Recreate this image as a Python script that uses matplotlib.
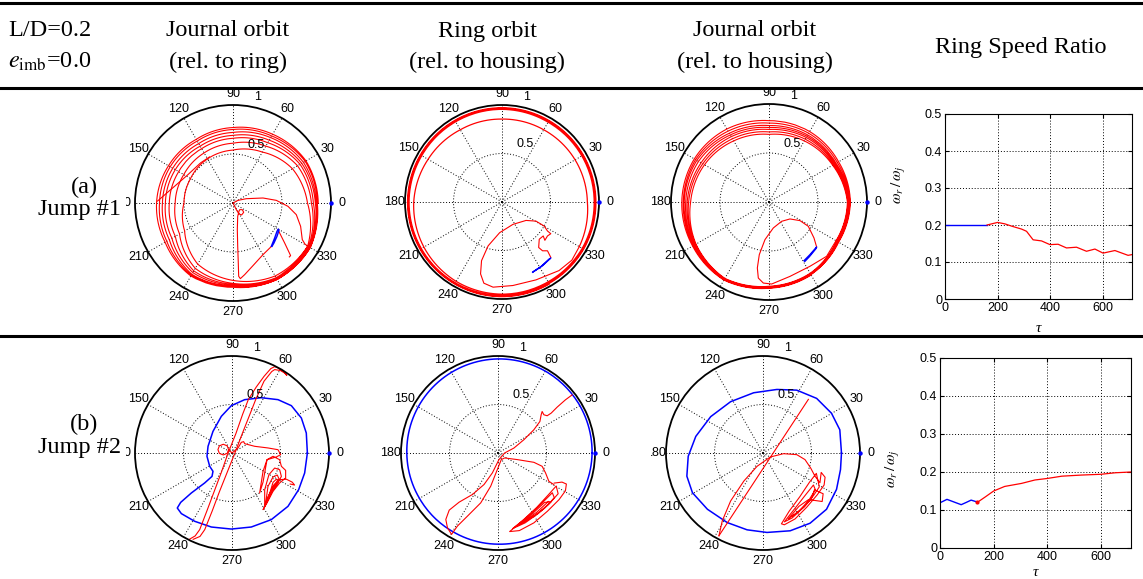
import numpy as np
import matplotlib
matplotlib.use("Agg")
import matplotlib.pyplot as plt
from matplotlib.lines import Line2D
from matplotlib.patches import Rectangle

plt.rcParams['mathtext.fontset'] = 'stix'
plt.rcParams['font.family'] = ['Liberation Sans', 'DejaVu Sans']
SERIF = 'Liberation Serif'

# ------------------------------------------------------------------ texts
COL_X = [228, 487, 755]
COL_LINE1 = ['Journal orbit', 'Ring orbit', 'Journal orbit']
COL_LINE2 = ['(rel. to ring)', '(rel. to housing)', '(rel. to housing)']
ROW_TAGS = ['(a)', '(b)']
ROW_NAMES = ['Jump #1', 'Jump #2']
ANGLE_TICKS = [0, 30, 60, 90, 120, 150, 180, 210, 240, 270, 300, 330]
SPEED_XTICKS = [0, 200, 400, 600]
SPEED_YTICKS = [0, 0.1, 0.2, 0.3, 0.4, 0.5]
SPEED_YTICKLABELS = ['0', '0.1', '0.2', '0.3', '0.4', '0.5']

# ------------------------------------------------------------------ ring speed ratio data
TAU_A_BLUE = [0, 80, 160]
RATIO_A_BLUE = [0.2, 0.2, 0.2]
TAU_A_RED = [160, 200, 228, 253, 291, 310, 335, 367, 399, 430, 462, 500, 538, 570, 601, 646, 696, 711]
RATIO_A_RED = [0.2, 0.207, 0.203, 0.197, 0.189, 0.183, 0.16, 0.157, 0.147, 0.148, 0.138, 0.14,
               0.129, 0.135, 0.124, 0.131, 0.118, 0.12]
TAU_B_BLUE = [0, 26, 60, 79, 98, 116, 139]
RATIO_B_BLUE = [0.119, 0.128, 0.119, 0.114, 0.12, 0.126, 0.121]
TAU_B_RED = [139, 170, 200, 241, 304, 354, 400, 454, 529, 600, 654, 712]
RATIO_B_RED = [0.12, 0.135, 0.15, 0.162, 0.17, 0.179, 0.183, 0.189, 0.192, 0.194, 0.198, 0.2]

# ------------------------------------------------------------------ orbit data (eccentricity, normalised)
# row (a), journal relative to ring
A1_BLUE_X = [0.391, 0.425, 0.449, 0.463, 0.469, 0.449, 0.418, 0.398]
A1_BLUE_Y = [-0.442, -0.357, -0.289, -0.265, -0.279, -0.340, -0.408, -0.442]
A1_SEG_X = [0.459, 0.527, 0.588, 0.575]
A1_SEG_Y = [-0.272, -0.408, -0.537, -0.55]
A1_PATH_X = [0.40, 0.306, 0.204, 0.119, 0.075, 0.058, 0.054, 0.048, 0.044, 0.048, 0.061, 0.068,
             0.095, 0.109, 0.088, 0.061, 0.034, 0.01, 0.0, 0.051, 0.136, 0.306, 0.442, 0.561,
             0.646, 0.690, 0.707, 0.735, 0.762]
A1_PATH_Y = [-0.435, -0.527, -0.639, -0.731, -0.772, -0.748, -0.612, -0.442, -0.272, -0.136,
             -0.085, -0.068, -0.068, -0.095, -0.122, -0.112, -0.068, -0.02, 0.0, 0.027, 0.044,
             0.051, 0.027, -0.034, -0.119, -0.238, -0.374, -0.42, -0.44]
A1_CROSS_X = [-0.77, -0.62, -0.47, -0.33, -0.24]
A1_CROSS_Y = [0.02, 0.15, 0.28, 0.41, 0.47]
A1_LOOP_ANGLES = [330, 300, 270, 240, 210, 180, 150, 120, 90, 60, 30, 0]   # clockwise
A1_LOOPS_R = [
    [0.88, 0.86, 0.79, 0.72, 0.57, 0.50, 0.50, 0.52, 0.54, 0.60, 0.70, 0.76],
    [0.88, 0.88, 0.82, 0.77, 0.63, 0.59, 0.58, 0.59, 0.61, 0.67, 0.76, 0.80],
    [0.89, 0.89, 0.83, 0.80, 0.68, 0.65, 0.64, 0.64, 0.66, 0.71, 0.79, 0.82],
    [0.90, 0.89, 0.84, 0.82, 0.72, 0.69, 0.68, 0.67, 0.69, 0.74, 0.81, 0.84],
    [0.90, 0.90, 0.85, 0.84, 0.75, 0.72, 0.71, 0.70, 0.72, 0.77, 0.83, 0.85],
    [0.91, 0.90, 0.85, 0.85, 0.78, 0.75, 0.74, 0.73, 0.75, 0.79, 0.85, 0.86],
    [0.91, 0.90, 0.86, 0.86, 0.80, 0.78, 0.76, 0.75, 0.77, 0.81, 0.86, 0.87],
]

# row (a), ring relative to housing
A2_BLUE_X = [0.316, 0.418, 0.503, 0.486, 0.401, 0.323]
A2_BLUE_Y = [-0.724, -0.656, -0.578, -0.588, -0.667, -0.718]
A2_PATH_X = [0.503, 0.469, 0.418, 0.378, 0.384, 0.425, 0.442, 0.469, 0.503, 0.469, 0.435, 0.350,
             0.248, 0.112, -0.024, -0.143, -0.211, -0.221, -0.187, -0.092, 0.112, 0.350, 0.588,
             0.72, 0.797]
A2_PATH_Y = [-0.571, -0.503, -0.503, -0.469, -0.384, -0.350, -0.395, -0.350, -0.327, -0.299,
             -0.248, -0.197, -0.190, -0.231, -0.316, -0.452, -0.605, -0.741, -0.837, -0.878,
             -0.861, -0.803, -0.707, -0.60, -0.46]
A2_LOOP_ANGLES = [-30, 0, 30, 60, 90, 120, 150, 180, 210, 240, 270, 300]   # counter-clockwise
A2_LOOPS_R = [
    [0.92, 0.88, 0.87, 0.86, 0.855, 0.86, 0.88, 0.91, 0.93, 0.945, 0.95, 0.95],
    [0.955, 0.95, 0.95, 0.95, 0.955, 0.955, 0.955, 0.958, 0.96, 0.962, 0.962, 0.962],
    [0.965, 0.96, 0.96, 0.962, 0.965, 0.965, 0.965, 0.967, 0.968, 0.97, 0.97, 0.97],
    [0.972, 0.968, 0.968, 0.97, 0.972, 0.972, 0.972, 0.974, 0.975, 0.976, 0.976, 0.976],
]

# row (a), journal relative to housing
A3_BLUE_X = [0.357, 0.418, 0.486, 0.476, 0.412, 0.367]
A3_BLUE_Y = [-0.599, -0.537, -0.459, -0.480, -0.558, -0.605]
A3_PATH_X = [0.486, 0.459, 0.401, 0.316, 0.214, 0.129, 0.044, -0.041, -0.099, -0.119, -0.109,
             -0.058, 0.027, 0.214, 0.418, 0.588, 0.684]
A3_PATH_Y = [-0.459, -0.367, -0.248, -0.190, -0.173, -0.197, -0.265, -0.384, -0.537, -0.673,
             -0.776, -0.827, -0.837, -0.759, -0.656, -0.554, -0.395]
A3_LOOP_ANGLES = [-30, 0, 30, 60, 90, 120, 150, 180, 210, 240, 270, 300]   # counter-clockwise
A3_LOOPS_R = [
    [0.79, 0.80, 0.75, 0.72, 0.69, 0.72, 0.76, 0.80, 0.86, 0.90, 0.86, 0.84],
    [0.795, 0.805, 0.76, 0.74, 0.715, 0.745, 0.78, 0.82, 0.865, 0.905, 0.865, 0.845],
    [0.80, 0.81, 0.77, 0.76, 0.74, 0.77, 0.80, 0.835, 0.87, 0.91, 0.87, 0.85],
    [0.805, 0.815, 0.78, 0.775, 0.76, 0.79, 0.83, 0.85, 0.88, 0.91, 0.87, 0.85],
    [0.81, 0.82, 0.79, 0.79, 0.78, 0.81, 0.85, 0.865, 0.885, 0.915, 0.875, 0.855],
    [0.815, 0.825, 0.805, 0.81, 0.805, 0.835, 0.865, 0.875, 0.89, 0.915, 0.875, 0.855],
    [0.82, 0.83, 0.82, 0.83, 0.83, 0.86, 0.88, 0.89, 0.90, 0.92, 0.88, 0.86],
]

# row (b), journal relative to ring
B1_BLUE_X = [0.777, 0.766, 0.715, 0.612, 0.474, 0.302, 0.131, -0.007, -0.110, -0.196, -0.247,
             -0.258, -0.230, -0.196, -0.206, -0.282, -0.419, -0.529, -0.564, -0.522, -0.385,
             -0.213, -0.007, 0.199, 0.405, 0.577, 0.687, 0.749, 0.777]
B1_BLUE_Y = [0.0, 0.206, 0.361, 0.488, 0.550, 0.570, 0.550, 0.488, 0.378, 0.223, 0.069, -0.034,
             -0.137, -0.189, -0.241, -0.309, -0.412, -0.509, -0.567, -0.625, -0.704, -0.763,
             -0.784, -0.763, -0.687, -0.550, -0.378, -0.206, 0.0]
B1_RIBBON_X = [-0.44, -0.38, -0.333, -0.26, -0.185, -0.11, -0.04, 0.04, 0.11, 0.168, 0.25, 0.33,
               0.40, 0.44, 0.47, 0.505, 0.53, 0.565, 0.55, 0.50, 0.44, 0.41, 0.33, 0.244, 0.185,
               0.106, 0.03, -0.05, -0.13, -0.205, -0.281, -0.33, -0.40]
B1_RIBBON_Y = [-0.89, -0.855, -0.79, -0.60, -0.40, -0.20, 0.0, 0.20, 0.40, 0.55, 0.68, 0.79,
               0.87, 0.89, 0.88, 0.855, 0.84, 0.80, 0.82, 0.85, 0.86, 0.84, 0.74, 0.55, 0.40,
               0.20, 0.0, -0.20, -0.40, -0.60, -0.79, -0.86, -0.89]
B1_PATH_X = [-0.035, -0.05, -0.09, -0.13, -0.145, -0.13, -0.09, -0.05, -0.035, 0.0, 0.062, 0.096,
             0.120, 0.131, 0.234, 0.371, 0.474, 0.502, 0.457,
             0.361, 0.320, 0.285, 0.320, 0.361, 0.423, 0.491, 0.509, 0.553, 0.553, 0.491, 0.423,
             0.361, 0.320,
             0.337, 0.337, 0.381, 0.440, 0.491, 0.509, 0.474, 0.405, 0.337,
             0.347, 0.371, 0.423, 0.467, 0.485, 0.440, 0.381, 0.347,
             0.388, 0.423, 0.460, 0.474, 0.433, 0.388, 0.43, 0.491, 0.56, 0.62, 0.645, 0.60]
B1_PATH_Y = [0.035, 0.074, 0.09, 0.074, 0.035, -0.004, -0.02, -0.004, 0.035, 0.0, 0.052, 0.110,
             0.117, 0.096, 0.069, 0.052, 0.034, -0.017, -0.041,
             -0.069, -0.300, -0.412, -0.189, -0.069, -0.034, -0.069, -0.137, -0.179, -0.258,
             -0.309, -0.395, -0.515, -0.584,
             -0.550, -0.378, -0.223, -0.155, -0.172, -0.241, -0.309, -0.412, -0.550,
             -0.515, -0.344, -0.247, -0.227, -0.268, -0.326, -0.430, -0.515,
             -0.419, -0.302, -0.268, -0.296, -0.351, -0.419, -0.33, -0.275, -0.27, -0.30, -0.33,
             -0.32]

# row (b), ring relative to housing
B2_BLUE_ANGLES = [0, 30, 60, 90, 120, 150, 180, 210, 240, 270, 300, 330, 360]
B2_BLUE_R = [0.97, 0.975, 0.975, 0.97, 0.96, 0.95, 0.94, 0.935, 0.935, 0.94, 0.95, 0.96, 0.97]
B2_PATH_X = [0.764, 0.695, 0.610, 0.548, 0.507, 0.473, 0.455, 0.445, 0.432, 0.370, 0.267, 0.164,
             0.068, 0.010, -0.058, -0.144, -0.264, -0.401, -0.503, -0.538, -0.521, -0.479,
             -0.418, -0.315, -0.178, -0.075, -0.007, 0.034, 0.068, 0.199, 0.370, 0.455, 0.490,
             0.524, 0.575]
B2_PATH_Y = [0.599, 0.548, 0.473, 0.411, 0.384, 0.394, 0.428, 0.394, 0.325, 0.240, 0.137, 0.051,
             0.0, -0.068, -0.205, -0.325, -0.428, -0.507, -0.589, -0.685, -0.771, -0.839,
             -0.753, -0.651, -0.514, -0.342, -0.171, -0.068, -0.051, -0.068, -0.096, -0.137,
             -0.205, -0.291, -0.325]
B2_CLUSTER_X = [0.58, 0.66, 0.705, 0.695, 0.63, 0.51, 0.37, 0.22, 0.12, 0.25, 0.40, 0.52, 0.60,
                0.61, 0.62, 0.55, 0.42, 0.28, 0.15, 0.30, 0.45, 0.56,
                0.58, 0.52, 0.40, 0.27, 0.20, 0.35, 0.48, 0.55, 0.48, 0.36, 0.25, 0.40, 0.52]
B2_CLUSTER_Y = [-0.31, -0.30, -0.32, -0.39, -0.48, -0.60, -0.72, -0.80, -0.81, -0.70, -0.56,
                -0.43, -0.34, -0.38, -0.42, -0.50, -0.62, -0.72, -0.78, -0.66, -0.52, -0.41,
                -0.46, -0.53, -0.63, -0.71, -0.75, -0.63, -0.51, -0.50, -0.57, -0.66, -0.72,
                -0.61, -0.50]

# row (b), journal relative to housing
B3_BLUE_X = [0.809, 0.792, 0.706, 0.553, 0.348, 0.143, -0.096, -0.334, -0.539, -0.693, -0.771,
             -0.785, -0.727, -0.573, -0.369, -0.164, 0.041, 0.280, 0.485, 0.655, 0.758, 0.799,
             0.809]
B3_BLUE_Y = [0.0, 0.239, 0.410, 0.563, 0.648, 0.655, 0.621, 0.529, 0.375, 0.171, -0.034, -0.239,
             -0.410, -0.580, -0.717, -0.792, -0.819, -0.802, -0.724, -0.580, -0.375, -0.171, 0.0]
B3_LINE_X = [0.468, -0.454]
B3_LINE_Y = [0.553, -0.853]
B3_PATH_X = [-0.454, -0.420, -0.334, -0.198, -0.061, 0.075, 0.212, 0.348, 0.433, 0.491, 0.536,
             0.587, 0.60, 0.64, 0.63, 0.56, 0.45, 0.33, 0.22, 0.19, 0.27, 0.38, 0.48, 0.55,
             0.57, 0.58, 0.52, 0.42, 0.30, 0.22, 0.33, 0.44, 0.52, 0.54, 0.47, 0.37, 0.26,
             0.37, 0.47, 0.61, 0.62, 0.53, 0.50, 0.43, 0.33, 0.30]
B3_PATH_Y = [-0.853, -0.700, -0.495, -0.290, -0.137, -0.041, -0.007, -0.017, -0.068, -0.154,
             -0.239, -0.307, -0.20, -0.25, -0.33, -0.43, -0.56, -0.68, -0.74, -0.73, -0.60,
             -0.45, -0.30, -0.21, -0.30, -0.35, -0.44, -0.56, -0.67, -0.71, -0.57, -0.43, -0.33,
             -0.38, -0.49, -0.60, -0.68, -0.55, -0.48, -0.50, -0.42, -0.38, -0.47, -0.55,
             -0.63, -0.65]

RED = '#ff0000'
BLUE = '#0000ff'
W, H = 1143, 579
fig = plt.figure(figsize=(W / 100, H / 100), dpi=100)


def clip_at(artist, left_px):
    rect = Rectangle((left_px / W, 0), 1, 1, transform=fig.transFigure)
    artist.set_clip_path(rect)
    artist.set_clip_on(True)


def polar_panel(cx, cy, R, clip_left=None, stub_180=False):
    ax = fig.add_axes([(cx - R) / W, 1 - (cy + R) / H, 2 * R / W, 2 * R / H],
                      projection='polar')
    ax.set_xlim(0, 2 * np.pi)
    ax.set_ylim(0, 1)
    ax.set_xticks(np.deg2rad(ANGLE_TICKS))
    ax.set_xticklabels([])
    ax.set_yticks([0.5])
    ax.set_yticklabels([])
    ax.tick_params(length=0)
    ax.grid(True, color='k', linestyle=(0, (1, 2)), linewidth=0.7)
    ax.spines['polar'].set_linewidth(1.3)
    for a in ANGLE_TICKS:
        if a == 180 and stub_180:
            # only the last digit peeks out from under the cropped panel edge
            t = fig.text((cx - R - 5) / W, 1 - cy / H, '0', ha='right', va='center',
                         fontsize=9)
            clip_at(t, clip_left)
            continue
        t = ax.text(np.deg2rad(a), 1.11, str(a), ha='center', va='center', fontsize=9)
        if clip_left is not None:
            clip_at(t, clip_left)
    ax.text(np.deg2rad(68), 0.64, '0.5', ha='center', va='center', fontsize=9)
    ax.text(np.deg2rad(77), 1.11, '1', ha='center', va='center', fontsize=9)
    ax.plot([0], [1], 'o', color=BLUE, ms=2.2, clip_on=False, zorder=5)
    return ax


def draw_xy(ax, xs, ys, color, lw=0.8):
    xs = np.asarray(xs, float)
    ys = np.asarray(ys, float)
    ax.plot(np.arctan2(ys, xs), np.hypot(xs, ys), color=color, lw=lw)


def draw_loops(ax, angles, loops, color, direction, lw=0.8):
    th, rr = [], []
    for k, loop in enumerate(loops):
        th.extend(np.asarray(angles, float) + direction * 360 * k)
        rr.extend(loop)
    line, = ax.plot(np.deg2rad(th), rr, color=color, lw=lw)
    line.get_path()._interpolation_steps = 12


# ---------------- row (a)
ax = polar_panel(233, 203, 98, clip_left=126, stub_180=True)
draw_xy(ax, A1_PATH_X, A1_PATH_Y, RED)
draw_xy(ax, A1_SEG_X, A1_SEG_Y, RED)
draw_xy(ax, A1_CROSS_X, A1_CROSS_Y, RED)
draw_loops(ax, A1_LOOP_ANGLES, A1_LOOPS_R, RED, -1)
draw_xy(ax, A1_BLUE_X, A1_BLUE_Y, BLUE, 1.0)

ax = polar_panel(502, 202, 97)
draw_xy(ax, A2_PATH_X, A2_PATH_Y, RED)
draw_loops(ax, A2_LOOP_ANGLES, A2_LOOPS_R, RED, 1, lw=0.9)
draw_xy(ax, A2_BLUE_X, A2_BLUE_Y, BLUE, 1.0)

ax = polar_panel(769, 202, 98)
draw_xy(ax, A3_PATH_X, A3_PATH_Y, RED)
draw_loops(ax, A3_LOOP_ANGLES, A3_LOOPS_R, RED, 1)
draw_xy(ax, A3_BLUE_X, A3_BLUE_Y, BLUE, 1.0)

# ---------------- row (b)
ax = polar_panel(232, 453, 97, clip_left=126, stub_180=True)
draw_xy(ax, B1_BLUE_X, B1_BLUE_Y, BLUE, 1.1)
draw_xy(ax, B1_RIBBON_X, B1_RIBBON_Y, RED)
draw_xy(ax, B1_PATH_X, B1_PATH_Y, RED)

ax = polar_panel(498, 453, 97)
line, = ax.plot(np.deg2rad(B2_BLUE_ANGLES), B2_BLUE_R, color=BLUE, lw=1.1)
line.get_path()._interpolation_steps = 12
draw_xy(ax, B2_PATH_X, B2_PATH_Y, RED)
draw_xy(ax, B2_CLUSTER_X, B2_CLUSTER_Y, RED)

ax = polar_panel(763, 453, 97, clip_left=651)
draw_xy(ax, B3_BLUE_X, B3_BLUE_Y, BLUE, 1.1)
draw_xy(ax, B3_LINE_X, B3_LINE_Y, RED)
draw_xy(ax, B3_PATH_X, B3_PATH_Y, RED)


# ---------------- ring speed ratio panels
def speed_panel(x0, x1, y0, y1, xmax, label_y):
    ax = fig.add_axes([x0 / W, 1 - y1 / H, (x1 - x0) / W, (y1 - y0) / H])
    ax.set_xlim(0, xmax)
    ax.set_ylim(0, 0.5)
    ax.set_xticks(SPEED_XTICKS)
    ax.set_yticks(SPEED_YTICKS)
    ax.set_yticklabels(SPEED_YTICKLABELS)
    ax.grid(True, color='k', linestyle=(0, (1, 2)), linewidth=0.7)
    ax.tick_params(direction='in', top=True, right=True, labelsize=9, length=3, pad=2)
    for s in ax.spines.values():
        s.set_linewidth(0.8)
    ax.set_ylabel(r'$\omega_r\,/\,\omega_j$', fontsize=11)
    ax.yaxis.set_label_coords(-0.2, label_y)
    return ax


ax = speed_panel(945, 1132, 114, 299, 711, 0.62)
ax.plot(TAU_A_BLUE, RATIO_A_BLUE, color=BLUE, lw=1.0)
ax.plot(TAU_A_RED, RATIO_A_RED, color=RED, lw=0.9)

ax = speed_panel(940, 1131, 358, 548, 712, 0.42)
ax.plot(TAU_B_BLUE, RATIO_B_BLUE, color=BLUE, lw=1.0)
ax.plot(TAU_B_RED, RATIO_B_RED, color=RED, lw=0.9)
ax.plot([TAU_B_RED[0]], [RATIO_B_RED[0]], 'o', color=RED, ms=2)

fig.text(1038 / W, 1 - 328 / H, 'τ', family=SERIF, style='italic', fontsize=11,
         ha='center', va='center')
fig.text(1035 / W, 1 - 573 / H, 'τ', family=SERIF, style='italic', fontsize=11,
         ha='center', va='center')

# ---------------- table texts and rules
HS = 17.5
fig.text(8 / W, 1 - 31 / H, 'L/D=0.2', family=SERIF, size=HS, ha='left', va='center')
fig.text(8 / W, 1 - 62 / H, r'$e_{\mathrm{imb}}$=0.0', family=SERIF, size=HS, ha='left',
         va='center')
for x, t1, t2 in zip(COL_X, COL_LINE1, COL_LINE2):
    fig.text(x / W, 1 - 31 / H, t1, family=SERIF, size=HS, ha='center', va='center')
    fig.text(x / W, 1 - 62 / H, t2, family=SERIF, size=HS, ha='center', va='center')
fig.text(1021 / W, 1 - 47 / H, 'Ring Speed Ratio', family=SERIF, size=HS, ha='center',
         va='center')
for yc, tag, name in zip([187, 424], ROW_TAGS, ROW_NAMES):
    fig.text(84 / W, 1 - yc / H, tag, family=SERIF, size=HS, ha='center', va='center')
    fig.text(80 / W, 1 - (yc + 23) / H, name, family=SERIF, size=HS, ha='center', va='center')

for y in [3, 88, 336]:
    fig.add_artist(Line2D([0, 1], [1 - y / H, 1 - y / H], transform=fig.transFigure,
                          color='k', lw=2.2))

fig.savefig('out.png', dpi=100)
